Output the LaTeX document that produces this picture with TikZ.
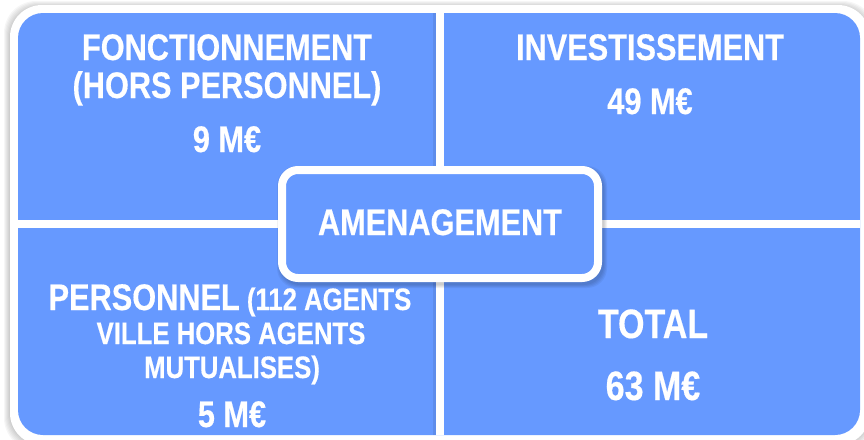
\documentclass[tikz,border=0pt]{standalone}
\usepackage{fontspec}
\newfontfamily\nf{Liberation Sans}[FakeStretch=0.83,FakeBold=0.4]
\definecolor{qblue}{RGB}{102,153,255}
\begin{document}
\begin{tikzpicture}[x=1pt,y=-1pt,
  lbl/.style={anchor=base,text=white,inner sep=0,font=\nf\bfseries\fontsize{37}{40}\selectfont},
  lbls/.style={lbl,font=\nf\bfseries\fontsize{31}{34}\selectfont},
  lblb/.style={lbl,font=\nf\bfseries\fontsize{41}{44}\selectfont},
  gap/.style={fill=white},
  centerbox/.style={draw=white,line width=8pt,fill=qblue,rounded corners=16pt}]
\useasboundingbox (0,0) rectangle (864,439);
% outer soft shadow
\foreach \d in {0,1,2,3,4,5}{
  \fill[black,opacity=0.035,rounded corners=32pt] (10-\d-1,5-\d+1) rectangle (870+\d,445+\d);
}
\fill[white,rounded corners=32pt] (10,5) rectangle (870,445);
% quadrants
\fill[qblue,rounded corners=25pt] (18,13) rectangle (860,435);
\fill[black,opacity=0.08] (433,13) rectangle (436,435);
\fill[gap] (436,13) rectangle (444,435);
\fill[gap] (18,220) rectangle (860,228);
% centre box shadow
\foreach \d in {0,1,2,3}{
  \fill[black,opacity=0.05,rounded corners=20pt] (278-\d+2,166-\d+3) rectangle (602+\d+2,282+\d+3);
}
\draw[centerbox] (282,170) rectangle (598,278);
% texts
\node[lbl] (fonc) at (227,60) {FONCTIONNEMENT};
\node[lbl] (hors) at (227,98) {(HORS PERSONNEL)};
\node[lbl] (fm) at (227,152) {9 M€};
\node[lbl] (inv) at (650,60) {INVESTISSEMENT};
\node[lbl] (im) at (650,114) {49 M€};
\node[lbl] (amen) at (440,235) {AMENAGEMENT};
\node[lbl] (pers) at (230,310) {PERSONNEL\fontsize{31}{34}\selectfont{} (112 AGENTS};
\node[lbls] (ville) at (231,344) {VILLE HORS AGENTS};
\node[lbls] (mut) at (232,378) {MUTUALISES)};
\node[lbl] (pm) at (232,427) {5 M€};
\node[lblb] (tot) at (653,338) {TOTAL};
\node[lblb] (tm) at (653,400) {63 M€};
\end{tikzpicture}
\end{document}
